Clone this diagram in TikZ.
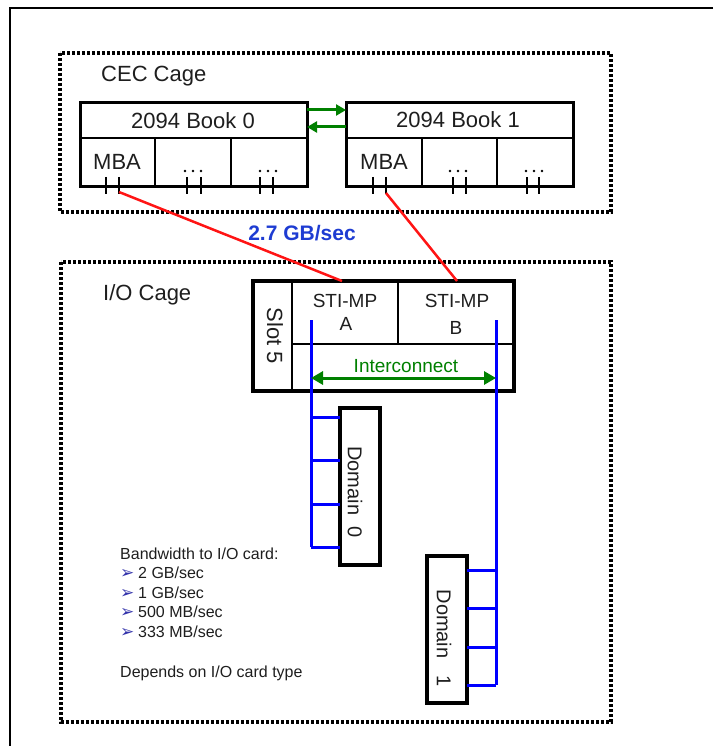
\documentclass[tikz,border=0pt]{standalone}
\usepackage{fontspec}
\setmainfont{Liberation Sans}
\newfontfamily\dejavu{DejaVu Sans}
\usetikzlibrary{arrows.meta}
\definecolor{ggreen}{RGB}{0,128,0}
\definecolor{bblue}{RGB}{0,0,255}
\definecolor{lblue}{RGB}{30,60,210}
\definecolor{bullblue}{RGB}{50,50,170}
\definecolor{rred}{RGB}{255,20,20}
\definecolor{txt}{RGB}{30,30,30}
\tikzset{
  cage/.style={line width=3.5pt, dash pattern=on 3.2pt off 1.8pt},
  thickbox/.style={draw, line width=3pt, inner sep=0pt, outer sep=0pt},
  divider/.style={line width=1.5pt},
  tick/.style={line width=2.5pt},
  greenarrow/.style={ggreen, line width=3pt, -{Triangle[length=10pt,width=11pt]}},
  greendbl/.style={ggreen, line width=3pt, {Triangle[length=12pt,width=13pt]}-{Triangle[length=12pt,width=13pt]}},
  redline/.style={rred, line width=2.5pt},
  bus/.style={bblue, line width=3pt},
  big/.style={font=\fontsize{22}{24}\selectfont, text=txt, inner sep=0pt},
  mid/.style={font=\fontsize{19}{22}\selectfont, text=txt, inner sep=0pt},
  small/.style={font=\fontsize{16}{20}\selectfont, text=txt, inner sep=0pt, anchor=base west},
  bullet/.style={font=\dejavu\fontsize{17}{20}\selectfont, text=bullblue, inner sep=0pt, anchor=base west},
}
\begin{document}
\begin{tikzpicture}[x=1pt,y=-1pt]
\useasboundingbox (0,0) rectangle (713,746);
% outer page frame
\draw[line width=1.2pt] (713,8) -- (10,8) -- (10,746);
% cages
\draw[cage] (60,53) rectangle (611,212);
\draw[cage] (61,262) rectangle (611,722);
\node[big, anchor=base west] (ceclabel) at (101,82) {CEC Cage};
\node[big, anchor=base west] (iolabel) at (103,300) {I/O Cage};

% Book 0
\node[thickbox, minimum width=227pt, minimum height=83pt] (book0) at (193.5,144.5) {};
\draw[divider] (80,138) -- (307,138);
\draw[divider] (155,138) -- (155,186);
\draw[divider] (231,138) -- (231,186);
\node[big, anchor=base] (b0title) at (193,129) {2094 Book 0};
\node[big, anchor=base west] (b0mba) at (93,169) {MBA};
\foreach \x in {106,119,187,201,260,273} \draw[tick] (\x,177) -- (\x,194);
\foreach \x in {185,193,201,260,268,276} \fill (\x,171) circle (1.4pt);
\coordinate (b0port) at (119,192);

% Book 1
\node[thickbox, minimum width=227pt, minimum height=83pt] (book1) at (459.5,144.5) {};
\draw[divider] (346,138) -- (573,138);
\draw[divider] (422,138) -- (422,186);
\draw[divider] (497,138) -- (497,186);
\node[big, anchor=base] (b1title) at (458,128) {2094 Book 1};
\node[big, anchor=base west] (b1mba) at (360,170) {MBA};
\foreach \x in {373,386,453,466,527,539} \draw[tick] (\x,177) -- (\x,194);
\foreach \x in {450,458,466,526,534,542} \fill (\x,171) circle (1.4pt);
\coordinate (b1port) at (386,193);

% arrows between books
\draw[greenarrow] (book0.east |- 0,110) -- (book1.west |- 0,110);
\draw[greenarrow] (book1.west |- 0,127) -- (book0.east |- 0,127);

% Slot 5 box
\node[thickbox, line width=3.5pt, minimum width=261pt, minimum height=110pt] (slot) at (383.5,336) {};
\draw[divider] (292,281) -- (292,391);
\draw[divider] (292,344) -- (514,344);
\draw[divider] (398,281) -- (398,344);
\node[big, rotate=-90] (slotlabel) at (275,336) {Slot 5};
\node[mid, anchor=base] (stia) at (345,307) {STI-MP};
\node[mid, anchor=base] (stiaA) at (346,330) {A};
\node[mid, anchor=base] (stib) at (457,307) {STI-MP};
\node[mid, anchor=base] (stibB) at (456,334) {B};
\coordinate (stiatop) at (342,281);
\coordinate (stibtop) at (457,281);

% red links
\draw[redline] (b0port) -- (stiatop);
\draw[redline] (b1port) -- (stibtop);
\node[font=\bfseries\fontsize{21}{24}\selectfont, text=lblue, inner sep=0pt, anchor=base] (bw) at (302,240) {2.7 GB/sec};

% buses
\coordinate (busAtop) at (311,320);
\coordinate (busBtop) at (496,320);
\draw[bus] (busAtop) -- (311,547);
\draw[bus] (busBtop) -- (496,685);
\draw[greendbl] (311,378) -- (496,378);
\node[mid, text=ggreen, anchor=base] (inter) at (406,372) {Interconnect};

% Domain 0
\node[thickbox, line width=3.5pt, minimum width=40pt, minimum height=157pt] (dom0) at (360,486.5) {};
\node[big, rotate=-90, font=\fontsize{20}{24}\selectfont] (dom0label) at (355,492) {Domain~~0};
\foreach \y in {417,460,504,547} \draw[bus] (311,\y) -- (dom0.west |- 0,\y);

% Domain 1
\node[thickbox, line width=3.5pt, minimum width=40pt, minimum height=147pt] (dom1) at (447,629.5) {};
\node[big, rotate=-90, font=\fontsize{20}{24}\selectfont] (dom1label) at (444,638) {Domain~~~1};
\foreach \y in {570,608,647,685} \draw[bus] (dom1.east |- 0,\y) -- (496,\y);

% bandwidth notes
\node[small] (bwtitle) at (120,559) {Bandwidth to I/O card:};
\node[bullet] (bul1) at (120,578) {➢};
\node[small] (bwl1) at (138,578) {2 GB/sec};
\node[bullet] (bul2) at (120,598) {➢};
\node[small] (bwl2) at (138,598) {1 GB/sec};
\node[bullet] (bul3) at (120,617) {➢};
\node[small] (bwl3) at (138,617) {500 MB/sec};
\node[bullet] (bul4) at (120,637) {➢};
\node[small] (bwl4) at (138,637) {333 MB/sec};
\node[small] (depends) at (120,677) {Depends on I/O card type};
\end{tikzpicture}
\end{document}
